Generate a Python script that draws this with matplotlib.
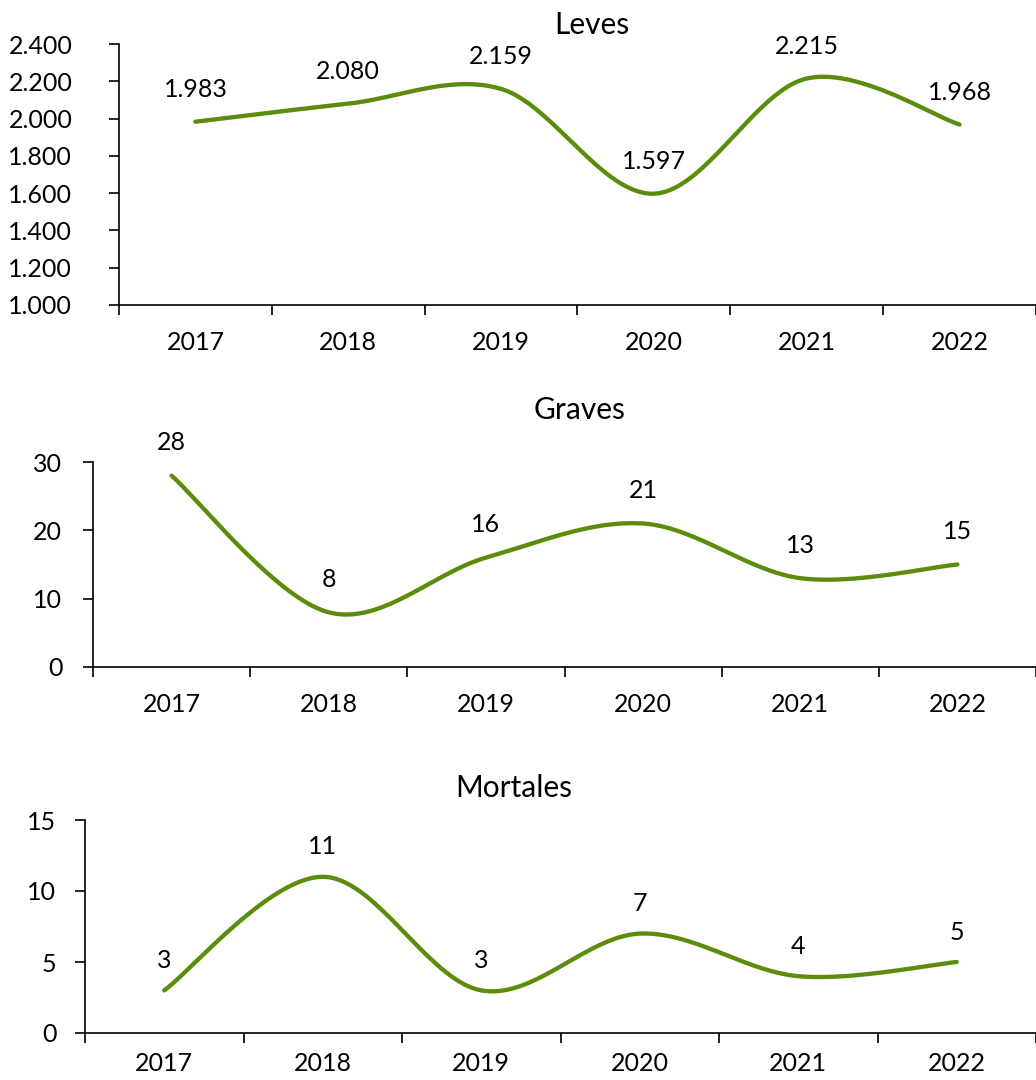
import numpy as np
import matplotlib.pyplot as plt
from matplotlib.ticker import FuncFormatter

years = ['2017', '2018', '2019', '2020', '2021', '2022']
leves = [1983, 2080, 2159, 1597, 2215, 1968]
graves = [28, 8, 16, 21, 13, 15]
mortales = [3, 11, 3, 7, 4, 5]

GREEN = '#5b8c0b'
plt.rcParams['font.family'] = ['Lato', 'DejaVu Sans']
FS = 18


def smooth(x, y, n=40):
    # Catmull-Rom like Excel's smoothed line
    x = np.asarray(x, float)
    y = np.asarray(y, float)
    px = np.concatenate([[x[0]], x, [x[-1]]])
    py = np.concatenate([[y[0]], y, [y[-1]]])
    xs, ys = [], []
    t = np.linspace(0, 1, n)
    for i in range(1, len(px) - 2):
        p0x, p1x, p2x, p3x = px[i - 1], px[i], px[i + 1], px[i + 2]
        p0y, p1y, p2y, p3y = py[i - 1], py[i], py[i + 1], py[i + 2]
        c1x, c1y = p1x + (p2x - p0x) / 6, p1y + (p2y - p0y) / 6
        c2x, c2y = p2x - (p3x - p1x) / 6, p2y - (p3y - p1y) / 6
        b = [(1 - t) ** 3, 3 * (1 - t) ** 2 * t, 3 * (1 - t) * t ** 2, t ** 3]
        xs.append(b[0] * p1x + b[1] * c1x + b[2] * c2x + b[3] * p2x)
        ys.append(b[0] * p1y + b[1] * c1y + b[2] * c2y + b[3] * p2y)
    return np.concatenate(xs), np.concatenate(ys)


def dots(v, pos):
    return '{:,.0f}'.format(v).replace(',', '.')


fig = plt.figure(figsize=(10.36, 10.8), dpi=100)
W, H = 1036, 1080

# (left px, top px, bottom px, xmax, ylim, step, values, title, title x, title y,
#  label offset, ytick pad px, xtick pad pt)
panels = [
    (119, 44, 305, 5.43, (1000, 2400), 200, leves, 'Leves', 592, 25, 32, 37, 19),
    (93, 462, 667, 5.43, (0, 30), 10, graves, 'Graves', 580, 410, 33, 21, 19),
    (85, 820, 1033, 5.46, (0, 15), 5, mortales, 'Mortales', 514, 788, 30, 19, 14),
]

for left, top, bottom, xmax, ylim, step, vals, title, tx, ty, off, ypad, xpad in panels:
    ax = fig.add_axes([left / W, 1 - bottom / H, 1 - left / W, (bottom - top) / H])
    x = np.arange(len(years))
    sx, sy = smooth(x, vals)
    ax.plot(sx, sy, color=GREEN, lw=3.1, solid_capstyle='round', clip_on=False)
    for xi, v in zip(x, vals):
        ax.annotate(dots(v, None), (xi, v), xytext=(0, off), textcoords='offset pixels',
                    ha='center', va='center', fontsize=FS)
    ax.set_xlim(-0.5, xmax)
    ax.set_ylim(*ylim)
    ax.set_yticks(np.arange(ylim[0], ylim[1] + step / 2, step))
    ax.yaxis.set_major_formatter(FuncFormatter(dots))
    ax.set_xticks(np.arange(-0.5, 6, 1))
    ax.set_xticklabels([])
    ax.set_xticks(x, minor=True)
    ax.set_xticklabels(years, minor=True)
    ax.tick_params(axis='x', which='minor', length=0, pad=xpad, labelsize=FS)
    ax.tick_params(axis='x', which='major', direction='out', length=7, width=1.2)
    ax.tick_params(axis='y', direction='out', length=7, width=1.2, labelsize=FS, pad=ypad * 0.72)
    for s in ['top', 'right']:
        ax.spines[s].set_visible(False)
    for s in ['left', 'bottom']:
        ax.spines[s].set_linewidth(1.2)
    fig.text(tx / W, 1 - ty / H, title, ha='center', va='center', fontsize=21.5)

fig.savefig('out.png', dpi=100)
